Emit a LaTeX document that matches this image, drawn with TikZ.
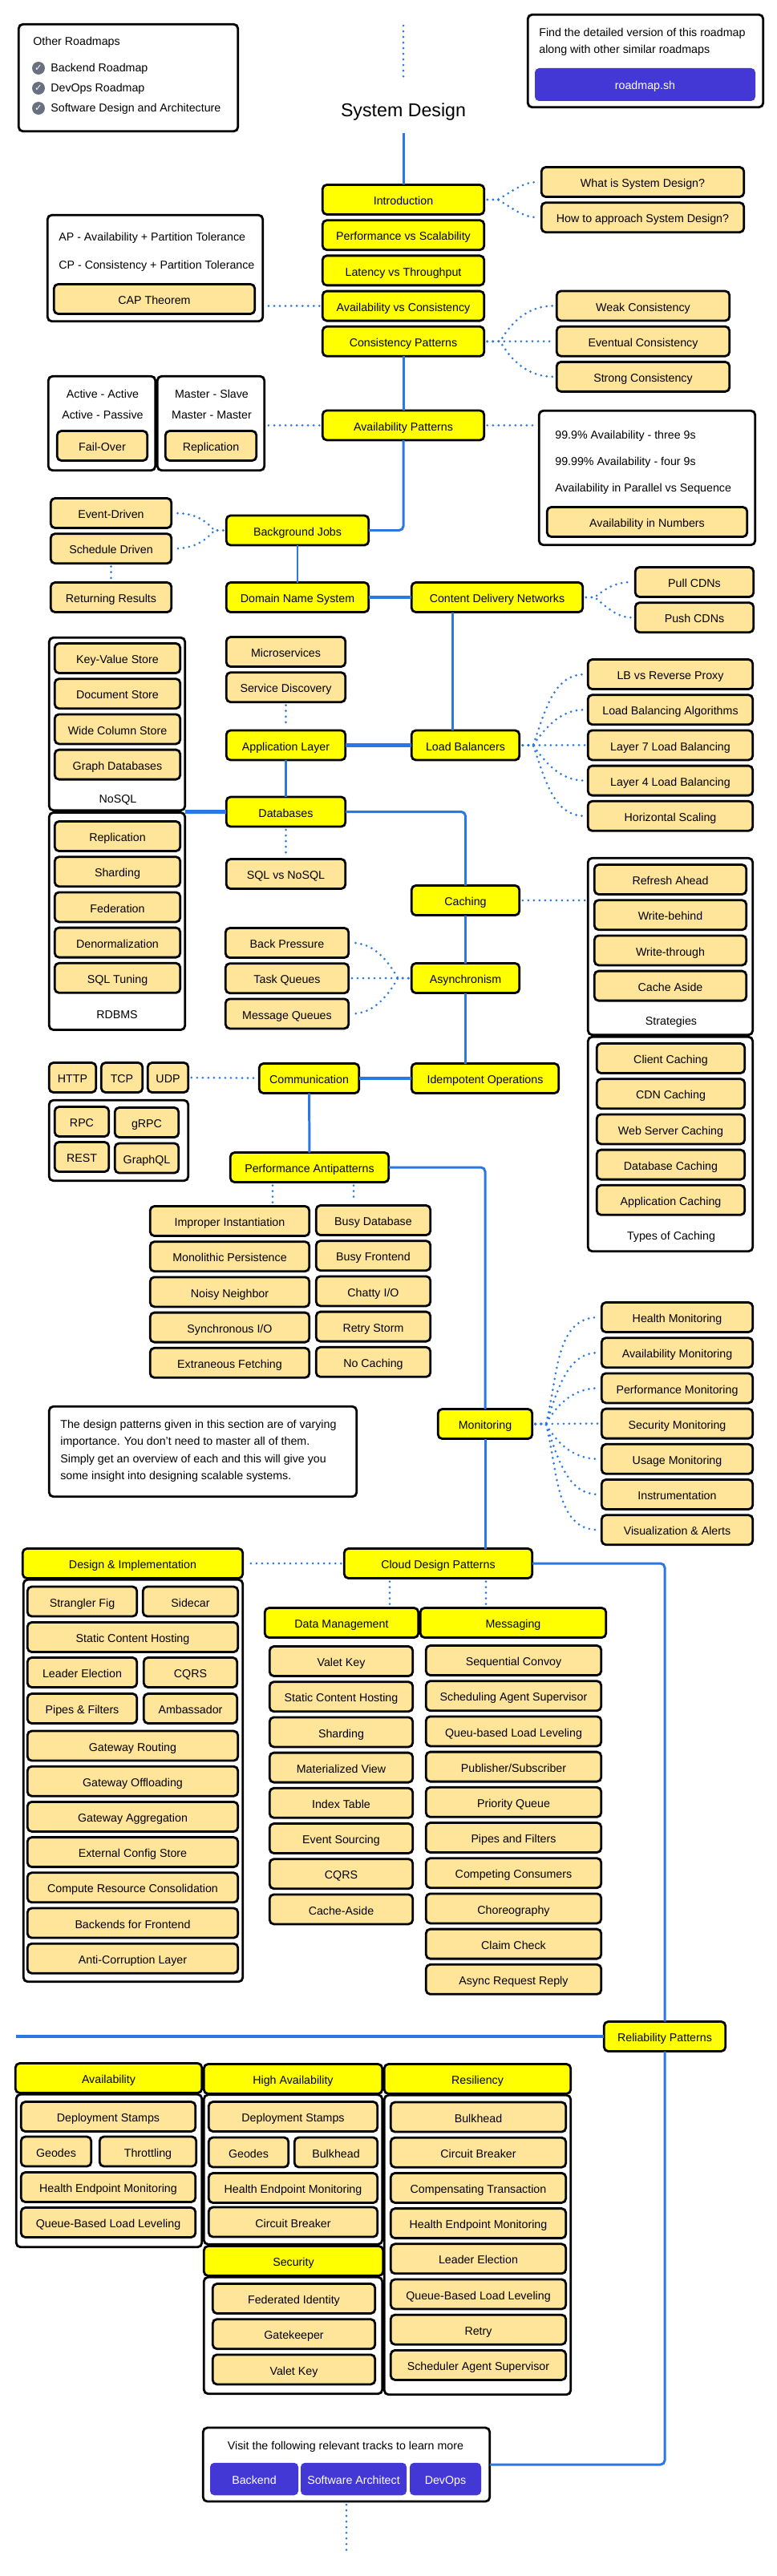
\documentclass[tikz,border=0pt]{standalone}
\usepackage{fontspec}
\setmainfont{Liberation Sans}
\newfontfamily\checkfont{DejaVu Sans}
\usetikzlibrary{positioning}
\definecolor{road-yellow}{RGB}{255,255,0}
\definecolor{road-sand}{RGB}{255,229,153}
\definecolor{road-blue}{RGB}{43,120,228}
\definecolor{road-indigo}{RGB}{67,56,214}
\definecolor{road-gray}{RGB}{106,112,128}
\newcommand{\roadfont}{\fontsize{8.1}{10}\selectfont}

\begin{document}
\begin{tikzpicture}[
    node distance=0.144cm,
    topic/.style={rectangle, draw=black, line width=1.6pt, fill=road-yellow, rounded corners=3pt, minimum width=#1, minimum height=0.74cm, inner sep=0pt, outer sep=0pt, text height=0.266cm, text depth=0pt, font=\roadfont},
    sub/.style={rectangle, draw=black, line width=1.6pt, fill=road-sand, rounded corners=3pt, minimum width=#1, minimum height=0.74cm, inner sep=0pt, outer sep=0pt, text height=0.266cm, text depth=0pt, font=\roadfont},
    panel/.style 2 args={rectangle, draw=black, line width=1.6pt, fill=white, rounded corners=3pt, minimum width=#1, minimum height=#2, inner sep=0pt, outer sep=0pt},
    linkbtn/.style 2 args={rectangle, fill=road-indigo, rounded corners=3pt, minimum width=#1, minimum height=#2, inner sep=0pt, outer sep=0pt, text=white, text height=0.24cm, text depth=0pt, font=\roadfont},
    textline/.style={anchor=west, inner sep=0pt, text height=0.2cm, text depth=0pt, font=\roadfont},
    caption/.style={inner sep=0pt, text height=0.2cm, text depth=0pt, font=\roadfont},
    tickmark/.style={circle, fill=road-gray, minimum size=0.32cm, inner sep=0pt, text=white, font=\checkfont\fontsize{6.5}{7}\selectfont},
    mainlink/.style={draw=road-blue, line width=1.7pt},
    widelink/.style={draw=road-blue, line width=2.4pt},
    dotlink/.style={draw=road-blue, line width=1.7pt, line cap=round, dash pattern=on 0pt off 4pt, shorten <=0.08cm, shorten >=0.08cm}
]
\useasboundingbox (0,0) rectangle (19.36,-64.26);

% Panels behind the boxes
\node[panel={5.47cm}{2.67cm}] (other-panel) at (3.20,-1.94) {};
\node[panel={5.87cm}{2.31cm}] (find-panel) at (16.10,-1.52) {};
\node[panel={5.37cm}{2.65cm}] (cap-panel) at (3.87,-6.69) {};
\node[panel={2.67cm}{2.35cm}] (active-panel) at (2.54,-10.56) {};
\node[panel={2.67cm}{2.35cm}] (master-panel) at (5.26,-10.56) {};
\node[panel={5.39cm}{3.35cm}] (numbers-panel) at (16.14,-11.92) {};
\node[panel={3.39cm}{4.31cm}] (nosql-panel) at (2.92,-18.06) {};
\node[panel={3.39cm}{5.42cm}] (rdbms-panel) at (2.92,-22.98) {};
\node[panel={4.11cm}{4.41cm}] (strategy-panel) at (16.72,-23.61) {};
\node[panel={4.11cm}{5.35cm}] (types-panel) at (16.72,-28.54) {};
\node[panel={3.47cm}{2.01cm}] (rpc-panel) at (2.96,-28.45) {};
\node[panel={7.67cm}{2.25cm}] (note-panel) at (5.06,-36.21) {};
\node[panel={5.47cm}{10.03cm}] (design-panel) at (3.32,-44.42) {};
\node[panel={4.63cm}{3.81cm}] (avail-panel) at (2.72,-54.15) {};
\node[panel={4.45cm}{3.73cm}] (high-panel) at (7.31,-54.12) {};
\node[panel={4.45cm}{2.91cm}] (sec-panel) at (7.31,-58.26) {};
\node[panel={4.65cm}{7.47cm}] (resil-panel) at (11.91,-56.00) {};
\node[panel={7.15cm}{1.84cm}] (tracks-panel) at (8.64,-61.48) {};

% Top corners and title
\node[textline] (other-label) at (0.82,-1.04) {Other Roadmaps};
\node[tickmark] (tick-a) at (0.96,-1.70) {✓};
\node[tickmark] (tick-b) at (0.96,-2.20) {✓};
\node[tickmark] (tick-c) at (0.96,-2.70) {✓};
\node[textline] (other-a) at (1.26,-1.70) {Backend Roadmap};
\node[textline] (other-b) at (1.26,-2.20) {DevOps Roadmap};
\node[textline] (other-c) at (1.26,-2.70) {Software Design and Architecture};
\node[textline] (find-a) at (13.44,-0.82) {Find the detailed version of this roadmap};
\node[textline] (find-b) at (13.44,-1.24) {along with other similar roadmaps};
\node[linkbtn={5.5cm}{0.82cm}] (roadmap-btn) at (16.09,-2.11) {roadmap.sh};
\node[font=\fontsize{13.2}{16}\selectfont, minimum height=1.04cm, inner sep=0pt, outer sep=0pt] (title) at (10.06,-2.80) {System Design};
\coordinate (top-end) at (10.06,-0.56);
\coordinate (top-start) at (10.06,-2.06);

% Main column
\node[topic=4.03cm] (intro) at (10.06,-4.98) {Introduction};
\node[topic=4.03cm, below=of intro] (perf) {Performance vs Scalability};
\node[topic=4.03cm, below=of perf] (latency) {Latency vs Throughput};
\node[topic=4.03cm, below=of latency] (avail-cons) {Availability vs Consistency};
\node[topic=4.03cm, below=of avail-cons] (cons-pat) {Consistency Patterns};
\node[topic=4.03cm] (avail-pat) at (10.06,-10.61) {Availability Patterns};
\node[topic=3.55cm] (bg-jobs) at (7.42,-13.23) {Background Jobs};
\node[topic=3.55cm] (dns) at (7.42,-14.90) {Domain Name System};
\node[topic=4.27cm] (cdn) at (12.40,-14.90) {Content Delivery Networks};
\node[topic=2.97cm] (app-layer) at (7.13,-18.59) {Application Layer};
\node[topic=2.69cm] (lb) at (11.61,-18.59) {Load Balancers};
\node[topic=2.97cm] (db) at (7.13,-20.25) {Databases};
\node[topic=2.69cm] (caching) at (11.61,-22.46) {Caching};
\node[topic=2.69cm] (async) at (11.61,-24.40) {Asynchronism};
\node[topic=3.67cm] (idem) at (12.10,-26.90) {Idempotent Operations};
\node[topic=2.49cm] (comm) at (7.71,-26.90) {Communication};
\node[topic=3.95cm] (perf-anti) at (7.72,-29.12) {Performance Antipatterns};
\node[topic=2.35cm] (monitoring) at (12.10,-35.52) {Monitoring};
\node[topic=4.69cm] (cloud) at (10.93,-39.00) {Cloud Design Patterns};
\node[topic=5.49cm] (design) at (3.31,-39.00) {Design \& Implementation};
\node[topic=3.83cm] (data-mgmt) at (8.52,-40.48) {Data Management};
\node[topic=4.63cm] (messaging) at (12.80,-40.48) {Messaging};
\node[topic=3.03cm] (reliab) at (16.58,-50.80) {Reliability Patterns};
\node[topic=4.65cm] (avail-head) at (2.71,-51.84) {Availability};
\node[topic=4.45cm] (high-head) at (7.31,-51.86) {High Availability};
\node[topic=4.65cm] (resil-head) at (11.91,-51.86) {Resiliency};
\node[topic=4.47cm] (sec-head) at (7.32,-56.40) {Security};

% Introduction and consistency
\node[sub=5.05cm] (what) at (16.03,-4.54) {What is System Design?};
\node[sub=5.05cm, below=of what] (how) {How to approach System Design?};
\node[sub=4.31cm] (weak) at (16.04,-7.63) {Weak Consistency};
\node[sub=4.31cm, below=of weak] (eventual) {Eventual Consistency};
\node[sub=4.31cm, below=of eventual] (strong) {Strong Consistency};
\node[textline] (ap-text) at (1.46,-5.90) {AP - Availability + Partition Tolerance};
\node[textline] (cp-text) at (1.46,-6.60) {CP - Consistency + Partition Tolerance};
\node[sub=5.01cm] (cap) at (3.85,-7.46) {CAP Theorem};

% Availability
\node[caption] (active-a) at (2.56,-9.82) {Active - Active};
\node[caption] (active-b) at (2.56,-10.34) {Active - Passive};
\node[sub=2.25cm] (fail-over) at (2.55,-11.12) {Fail-Over};
\node[caption] (master-a) at (5.28,-9.82) {Master - Slave};
\node[caption] (master-b) at (5.28,-10.34) {Master - Master};
\node[sub=2.27cm] (replication) at (5.26,-11.12) {Replication};
\node[textline] (nines-a) at (13.84,-10.84) {99.9\% Availability - three 9s};
\node[textline] (nines-b) at (13.84,-11.50) {99.99\% Availability - four 9s};
\node[textline] (nines-c) at (13.84,-12.16) {Availability in Parallel vs Sequence};
\node[sub=4.99cm] (avail-num) at (16.14,-13.02) {Availability in Numbers};

% Background jobs and CDN
\node[sub=3.01cm] (event-driven) at (2.77,-12.80) {Event-Driven};
\node[sub=3.01cm, below=of event-driven] (schedule) {Schedule Driven};
\node[sub=3.01cm] (returning) at (2.77,-14.90) {Returning Results};
\node[sub=2.95cm] (pull) at (17.32,-14.52) {Pull CDNs};
\node[sub=2.95cm, below=of pull] (push) {Push CDNs};

% Load balancers and application layer
\node[sub=2.97cm] (micro) at (7.13,-16.26) {Microservices};
\node[sub=2.97cm, below=of micro] (discovery) {Service Discovery};
\node[sub=4.11cm] (lb-proxy) at (16.72,-16.82) {LB vs Reverse Proxy};
\node[sub=4.11cm, below=of lb-proxy] (lb-algo) {Load Balancing Algorithms};
\node[sub=4.11cm, below=of lb-algo] (layer-7) {Layer 7 Load Balancing};
\node[sub=4.11cm, below=of layer-7] (layer-4) {Layer 4 Load Balancing};
\node[sub=4.11cm, below=of layer-4] (scaling) {Horizontal Scaling};

% Databases
\node[sub=3.13cm] (key-value) at (2.93,-16.42) {Key-Value Store};
\node[sub=3.13cm, below=of key-value] (document) {Document Store};
\node[sub=3.13cm, below=of document] (wide-col) {Wide Column Store};
\node[sub=3.13cm, below=of wide-col] (graph-db) {Graph Databases};
\node[caption] (nosql-label) at (2.94,-19.92) {NoSQL};
\node[sub=3.13cm] (db-repl) at (2.93,-20.86) {Replication};
\node[sub=3.13cm, below=of db-repl] (sharding) {Sharding};
\node[sub=3.13cm, below=of sharding] (federation) {Federation};
\node[sub=3.13cm, below=of federation] (denorm) {Denormalization};
\node[sub=3.13cm, below=of denorm] (sql-tuning) {SQL Tuning};
\node[caption] (rdbms-label) at (2.92,-25.30) {RDBMS};
\node[sub=2.97cm] (sql-nosql) at (7.13,-21.80) {SQL vs NoSQL};

% Caching
\node[sub=3.79cm] (refresh) at (16.72,-21.94) {Refresh Ahead};
\node[sub=3.79cm, below=of refresh] (write-behind) {Write-behind};
\node[sub=3.79cm, below=of write-behind] (write-through) {Write-through};
\node[sub=3.79cm, below=of write-through] (cache-aside) {Cache Aside};
\node[caption] (strategy-label) at (16.74,-25.47) {Strategies};
\node[sub=3.69cm] (client) at (16.73,-26.40) {Client Caching};
\node[sub=3.69cm, below=of client] (cdn-cache) {CDN Caching};
\node[sub=3.69cm, below=of cdn-cache] (web-cache) {Web Server Caching};
\node[sub=3.69cm, below=of web-cache] (db-cache) {Database Caching};
\node[sub=3.69cm, below=of db-cache] (app-cache) {Application Caching};
\node[caption] (types-label) at (16.74,-30.82) {Types of Caching};

% Asynchronism and communication
\node[sub=3.07cm] (back-pressure) at (7.16,-23.52) {Back Pressure};
\node[sub=3.07cm, below=of back-pressure] (task-queues) {Task Queues};
\node[sub=3.07cm, below=of task-queues] (msg-queues) {Message Queues};
\node[sub=1.17cm] (http) at (1.81,-26.88) {HTTP};
\node[sub=1.03cm, right=0.13cm of http] (tcp) {TCP};
\node[sub=1.01cm, right=0.13cm of tcp] (udp) {UDP};
\node[sub=1.35cm] (rpc) at (2.04,-27.98) {RPC};
\node[sub=1.59cm] (grpc) at (3.66,-28.00) {gRPC};
\node[sub=1.35cm] (rest) at (2.04,-28.86) {REST};
\node[sub=1.59cm] (graphql) at (3.66,-28.89) {GraphQL};

% Antipatterns
\node[sub=3.97cm] (improper) at (5.73,-30.46) {Improper Instantiation};
\node[sub=3.97cm, below=of improper] (monolithic) {Monolithic Persistence};
\node[sub=3.97cm, below=of monolithic] (noisy) {Noisy Neighbor};
\node[sub=3.97cm, below=of noisy] (sync-io) {Synchronous I/O};
\node[sub=3.97cm, below=of sync-io] (extraneous) {Extraneous Fetching};
\node[sub=2.85cm] (busy-db) at (9.31,-30.44) {Busy Database};
\node[sub=2.85cm, below=of busy-db] (busy-front) {Busy Frontend};
\node[sub=2.85cm, below=of busy-front] (chatty) {Chatty I/O};
\node[sub=2.85cm, below=of chatty] (retry-storm) {Retry Storm};
\node[sub=2.85cm, below=of retry-storm] (no-caching) {No Caching};

% Monitoring and note
\node[sub=3.77cm] (health) at (16.89,-32.86) {Health Monitoring};
\node[sub=3.77cm, below=of health] (avail-mon) {Availability Monitoring};
\node[sub=3.77cm, below=of avail-mon] (perf-mon) {Performance Monitoring};
\node[sub=3.77cm, below=of perf-mon] (sec-mon) {Security Monitoring};
\node[sub=3.77cm, below=of sec-mon] (usage-mon) {Usage Monitoring};
\node[sub=3.77cm, below=of usage-mon] (instrument) {Instrumentation};
\node[sub=3.77cm, below=of instrument] (visual) {Visualization \& Alerts};
\node[textline] (note-a) at (1.50,-35.52) {The design patterns given in this section are of varying};
\node[textline] (note-b) at (1.50,-35.95) {importance. You don't need to master all of them.};
\node[textline] (note-c) at (1.50,-36.38) {Simply get an overview of each and this will give you};
\node[textline] (note-d) at (1.50,-36.81) {some insight into designing scalable systems.};

% Design and implementation
\node[sub=2.73cm] (strangler) at (2.05,-39.95) {Strangler Fig};
\node[sub=2.37cm] (sidecar) at (4.75,-39.95) {Sidecar};
\node[sub=5.25cm] (static-host) at (3.31,-40.84) {Static Content Hosting};
\node[sub=2.73cm] (leader) at (2.05,-41.72) {Leader Election};
\node[sub=2.33cm] (cqrs) at (4.75,-41.72) {CQRS};
\node[sub=2.73cm] (pipes) at (2.05,-42.62) {Pipes \& Filters};
\node[sub=2.33cm] (ambassador) at (4.75,-42.62) {Ambassador};
\node[sub=5.25cm] (gw-routing) at (3.31,-43.55) {Gateway Routing};
\node[sub=5.25cm, below=of gw-routing] (gw-off) {Gateway Offloading};
\node[sub=5.25cm, below=of gw-off] (gw-agg) {Gateway Aggregation};
\node[sub=5.25cm, below=of gw-agg] (ext-config) {External Config Store};
\node[sub=5.25cm, below=of ext-config] (compute) {Compute Resource Consolidation};
\node[sub=5.25cm, below=of compute] (backends) {Backends for Frontend};
\node[sub=5.25cm, below=of backends] (anti-corr) {Anti-Corruption Layer};

% Data management
\node[sub=3.57cm] (valet) at (8.51,-41.44) {Valet Key};
\node[sub=3.57cm, below=of valet] (data-static) {Static Content Hosting};
\node[sub=3.57cm, below=of data-static] (data-shard) {Sharding};
\node[sub=3.57cm, below=of data-shard] (materialized) {Materialized View};
\node[sub=3.57cm, below=of materialized] (index-table) {Index Table};
\node[sub=3.57cm, below=of index-table] (event-src) {Event Sourcing};
\node[sub=3.57cm, below=of event-src] (data-cqrs) {CQRS};
\node[sub=3.57cm, below=of data-cqrs] (data-aside) {Cache-Aside};

% Messaging
\node[sub=4.37cm] (seq-convoy) at (12.81,-41.42) {Sequential Convoy};
\node[sub=4.37cm, below=of seq-convoy] (scheduling) {Scheduling Agent Supervisor};
\node[sub=4.37cm, below=of scheduling] (queu-load) {Queu-based Load Leveling};
\node[sub=4.37cm, below=of queu-load] (pubsub) {Publisher/Subscriber};
\node[sub=4.37cm, below=of pubsub] (priority) {Priority Queue};
\node[sub=4.37cm, below=of priority] (pipes-filters) {Pipes and Filters};
\node[sub=4.37cm, below=of pipes-filters] (competing) {Competing Consumers};
\node[sub=4.37cm, below=of competing] (choreo) {Choreography};
\node[sub=4.37cm, below=of choreo] (claim) {Claim Check};
\node[sub=4.37cm, below=of claim] (async-reply) {Async Request Reply};

% Reliability columns
\node[sub=4.35cm] (av-stamps) at (2.70,-52.80) {Deployment Stamps};
\node[sub=1.75cm] (av-geodes) at (1.40,-53.67) {Geodes};
\node[sub=2.41cm] (throttling) at (3.69,-53.67) {Throttling};
\node[sub=4.35cm] (av-health) at (2.70,-54.56) {Health Endpoint Monitoring};
\node[sub=4.35cm] (av-queue) at (2.70,-55.44) {Queue-Based Load Leveling};

\node[sub=4.21cm] (hi-stamps) at (7.31,-52.80) {Deployment Stamps};
\node[sub=1.99cm] (hi-geodes) at (6.20,-53.69) {Geodes};
\node[sub=2.07cm] (hi-bulk) at (8.38,-53.69) {Bulkhead};
\node[sub=4.21cm] (hi-health) at (7.31,-54.58) {Health Endpoint Monitoring};
\node[sub=4.21cm] (hi-circuit) at (7.31,-55.43) {Circuit Breaker};

\node[sub=4.05cm] (federated) at (7.33,-57.34) {Federated Identity};
\node[sub=4.05cm, below=of federated] (gatekeeper) {Gatekeeper};
\node[sub=4.05cm, below=of gatekeeper] (sec-valet) {Valet Key};

\node[sub=4.37cm] (re-bulk) at (11.93,-52.81) {Bulkhead};
\node[sub=4.37cm, below=of re-bulk] (re-circuit) {Circuit Breaker};
\node[sub=4.37cm, below=of re-circuit] (compensating) {Compensating Transaction};
\node[sub=4.37cm, below=of compensating] (re-health) {Health Endpoint Monitoring};
\node[sub=4.37cm, below=of re-health] (re-leader) {Leader Election};
\node[sub=4.37cm, below=of re-leader] (re-queue) {Queue-Based Load Leveling};
\node[sub=4.37cm, below=of re-queue] (re-retry) {Retry};
\node[sub=4.37cm, below=of re-retry] (re-sched) {Scheduler Agent Supervisor};

% Tracks at the bottom
\node[caption] (tracks-label) at (8.62,-61.00) {Visit the following relevant tracks to learn more};
\node[linkbtn={2.20cm}{0.81cm}] (backend-btn) at (6.34,-61.84) {Backend};
\node[linkbtn={2.64cm}{0.81cm}] (architect-btn) at (8.82,-61.84) {Software Architect};
\node[linkbtn={1.78cm}{0.81cm}] (devops-btn) at (11.11,-61.84) {DevOps};
\coordinate (bottom-end) at (8.64,-63.82);
\coordinate (reliab-end) at (0.40,-50.80);

% Main path
\draw[mainlink] (title) -- (intro);
\draw[mainlink] (cons-pat) -- (avail-pat);
\draw[mainlink, rounded corners=3pt] (avail-pat.south) |- (bg-jobs.east);
\draw[mainlink] (bg-jobs) -- (dns);
\draw[widelink] (dns) -- (cdn);
\draw[mainlink] ([xshift=-1.12cm]cdn.south) -- ([xshift=-1.12cm]cdn.south |- lb.north);
\draw[widelink] (lb) -- (app-layer);
\draw[mainlink] (app-layer) -- (db);
\draw[widelink] (db.west) -- (db.west -| nosql-panel.east);
\draw[mainlink, rounded corners=3pt] (db.east) -| (caching.north);
\draw[mainlink] (caching) -- (async);
\draw[mainlink] (async.south) -- (async.south |- idem.north);
\draw[widelink] (idem) -- (comm);
\draw[mainlink] (comm) -- (perf-anti);
\draw[mainlink, rounded corners=3pt] (perf-anti.east) -| (monitoring.north);
\draw[mainlink] (monitoring.south) -- (monitoring.south |- cloud.north);
\draw[mainlink, rounded corners=3pt] (cloud.east) -| (reliab.north);
\draw[widelink] (reliab.west) -- (reliab-end);
\draw[mainlink, rounded corners=3pt] (reliab.south) |- (tracks-panel.east);

% Dotted links
\draw[dotlink] (top-end) -- (top-start);
\draw[dotlink] (tracks-panel.south) -- (bottom-end);
\draw[dotlink] (intro.east) -- ++(0.34cm,0) to[out=30, in=180] (what.west);
\draw[dotlink] (intro.east) -- ++(0.34cm,0) to[out=-30, in=180] (how.west);
\draw[dotlink] (avail-cons.west) -- (avail-cons.west -| cap-panel.east);
\draw[dotlink] (cons-pat.east) -- ++(0.40cm,0) to[out=60, in=180] (weak.west);
\draw[dotlink] (cons-pat.east) -- (eventual.west);
\draw[dotlink] (cons-pat.east) -- ++(0.40cm,0) to[out=-60, in=180] (strong.west);
\draw[dotlink] (avail-pat.west) -- (avail-pat.west -| master-panel.east);
\draw[dotlink] (avail-pat.east) -- (avail-pat.east -| numbers-panel.west);
\draw[dotlink] (bg-jobs.west) -- ++(-0.30cm,0) to[out=130, in=0] (event-driven.east);
\draw[dotlink] (bg-jobs.west) -- ++(-0.30cm,0) to[out=230, in=0] (schedule.east);
\draw[dotlink] (schedule) -- (returning);
\draw[dotlink] (cdn.east) -- ++(0.30cm,0) to[out=40, in=180] (pull.west);
\draw[dotlink] (cdn.east) -- ++(0.30cm,0) to[out=-40, in=180] (push.west);
\draw[dotlink] (discovery) -- (app-layer);
\draw[dotlink] (lb.east) -- ++(0.34cm,0) to[out=70, in=180] (lb-proxy.west);
\draw[dotlink] (lb.east) -- ++(0.34cm,0) to[out=55, in=180] (lb-algo.west);
\draw[dotlink] (lb.east) -- (layer-7.west);
\draw[dotlink] (lb.east) -- ++(0.34cm,0) to[out=-55, in=180] (layer-4.west);
\draw[dotlink] (lb.east) -- ++(0.34cm,0) to[out=-70, in=180] (scaling.west);
\draw[dotlink] (db) -- (sql-nosql);
\draw[dotlink] (caching.east) -- (caching.east -| strategy-panel.west);
\draw[dotlink] (async.west) -- ++(-0.34cm,0) to[out=120, in=0] (back-pressure.east);
\draw[dotlink] (async.west) -- (task-queues.east);
\draw[dotlink] (async.west) -- ++(-0.34cm,0) to[out=240, in=0] (msg-queues.east);
\draw[dotlink] (udp) -- (comm);
\draw[dotlink] ([xshift=-0.92cm]perf-anti.south) -- ([xshift=-0.92cm]perf-anti.south |- improper.north);
\draw[dotlink] ([xshift=1.10cm]perf-anti.south) -- ([xshift=1.10cm]perf-anti.south |- busy-db.north);
\draw[dotlink] (monitoring.east) -- ++(0.34cm,0) to[out=75, in=180] (health.west);
\draw[dotlink] (monitoring.east) -- ++(0.34cm,0) to[out=70, in=180] (avail-mon.west);
\draw[dotlink] (monitoring.east) -- ++(0.34cm,0) to[out=60, in=180] (perf-mon.west);
\draw[dotlink] (monitoring.east) -- (sec-mon.west);
\draw[dotlink] (monitoring.east) -- ++(0.34cm,0) to[out=-60, in=180] (usage-mon.west);
\draw[dotlink] (monitoring.east) -- ++(0.34cm,0) to[out=-70, in=180] (instrument.west);
\draw[dotlink] (monitoring.east) -- ++(0.34cm,0) to[out=-75, in=180] (visual.west);
\draw[dotlink] (cloud.west) -- (design.east);
\draw[dotlink] ([xshift=-1.21cm]cloud.south) -- ([xshift=-1.21cm]cloud.south |- data-mgmt.north);
\draw[dotlink] ([xshift=1.19cm]cloud.south) -- ([xshift=1.19cm]cloud.south |- messaging.north);

\end{tikzpicture}
\end{document}
